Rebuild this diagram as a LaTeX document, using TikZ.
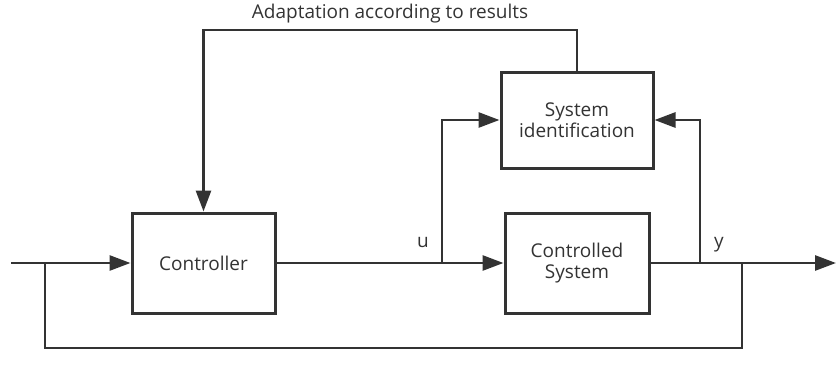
\documentclass[tikz,border=0pt]{standalone}
\usepackage{fontspec}
\setmainfont{Open Sans}
\usetikzlibrary{arrows.meta}
\definecolor{ink}{HTML}{333333}
\tikzset{
  block/.style={draw=ink, line width=3pt, fill=white, align=center,
    text=ink, font=\fontsize{19}{23}\selectfont, inner sep=0pt},
  wire/.style={draw=ink, line width=2.8pt},
  feed/.style={wire, -{Triangle[length=21pt,width=15pt]}},
  tag/.style={text=ink, font=\fontsize{19}{23}\selectfont, inner sep=0pt}
}
\begin{document}
\begin{tikzpicture}[x=1pt,y=-1pt]
  \useasboundingbox (0,0) rectangle (836,378);
  % blocks
  \node[block, minimum width=143pt, minimum height=100pt] (ctrl) at (203.5,263) {Controller};
  \node[block, minimum width=152pt, minimum height=96pt] (si) at (577,120) {System\\[-2pt]identification};
  \node[block, minimum width=144pt, minimum height=100pt] (cs) at (577,263) {Controlled\\[-2pt]System};
  % junctions and corners
  \coordinate (in) at (11,263);
  \coordinate (fbL) at (45,263);
  \coordinate (fbLb) at (45,348);
  \coordinate (fbRb) at (742,348);
  \coordinate (fbR) at (742,263);
  \coordinate (out) at (836,263);
  \coordinate (uS) at (442,263);
  \coordinate (yS) at (700,263);
  \coordinate (topL) at (203.5,30);
  % main path
  \draw[feed] (in) -- (ctrl.west);
  \draw[wire] (ctrl.east) -- (uS);
  \draw[feed] (uS) -- (cs.west);
  \draw[wire] (cs.east) -- (yS);
  \draw[feed] (yS) -- (out);
  % unity feedback
  \draw[wire] (fbL) -- (fbLb) -- (fbRb) -- (fbR);
  % identification inputs
  \draw[feed] (uS) |- (si.west);
  \draw[feed] (yS) |- (si.east);
  % adaptation loop
  \draw[feed] (si.north) |- (topL) -- (ctrl.north);
  % labels
  \node[tag] (ulab) at (423,243) {u};
  \node[tag] (ylab) at (719,245) {y};
  \node[tag] (adapt) at (390,14) {Adaptation according to results};
\end{tikzpicture}
\end{document}
